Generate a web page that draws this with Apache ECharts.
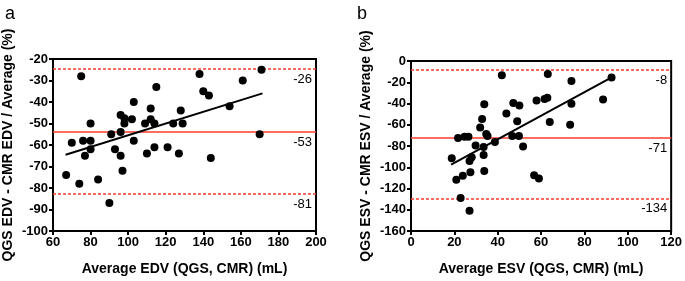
<!DOCTYPE html>
<html><head><meta charset="utf-8">
<script src="https://cdn.jsdelivr.net/npm/echarts@6/dist/echarts.min.js"></script>
<style>html,body{margin:0;padding:0;background:#fff}#c{width:685px;height:281px}</style>
</head><body><div id="c"></div>
<script>
// Panel a: EDV
var edvX = [67,70,74,75,76,77,80,80,80,84,90,91,93,96,96,97,96,98,98,102,103,103,109,112,112,114,115,110,114,121,124,127,128,129,138,140,143,144,154,161,171,170];
var edvY = [-74,-59,-78,-28,-58,-65,-58,-62,-50,-76,-87,-55,-62,-54,-65,-72,-46,-47.5,-50,-48,-40,-58,-50,-43,-48,-50,-33,-64,-61,-61,-50,-64,-44,-50,-27,-35,-37,-66,-42,-30,-25,-55];
var edvFitX = [66.7, 171.5];
var edvFitY = [-64.5, -36];
var edvLimitValues = [-24.6, -53.7, -82.7];
var edvLimitLabels = ['-26', '-53', '-81'];

// Panel b: ESV
var esvX = [18.8,20.9,23.9,27.4,33.8,22.9,27,21.7,24.7,26.5,29.8,27,28,33.5,33.5,34.7,35.3,38.7,31.9,32.8,33.8,41.9,44,47.2,50,49,46.7,49.8,51.7,57.9,61.6,62.9,63.1,64,74,74,73.4,88.6,92.5,56.8,59];
var esvY = [-91.5,-111.7,-108,-104.7,-103.5,-129,-141,-72.5,-71.3,-71.3,-79.5,-94,-90.5,-88.5,-81,-68.6,-70.7,-76.3,-62.5,-54.5,-40.8,-13.4,-49.4,-39.6,-41.8,-56.7,-70.7,-70.7,-80.5,-37.2,-35.8,-34.5,-12.2,-57.3,-18.9,-40.2,-60,-36.3,-15.5,-107.5,-110.5];
var esvFitX = [18.5, 91.5];
var esvFitY = [-97.5, -16.5];
var esvLimitValues = [-8.5, -72.5, -129.2];
var esvLimitLabels = ['-8', '-71', '-134'];

var xTitles = ['Average EDV (QGS, CMR) (mL)', 'Average ESV (QGS, CMR) (mL)'];
var yTitles = ['QGS EDV - CMR EDV / Average (%)', 'QGS ESV - CMR ESV / Average (%)'];
var panelLetters = ['a', 'b'];

function zip(a, b) { return a.map(function (v, i) { return [v, b[i]]; }); }

var FONT = 'Liberation Sans';
var RED = '#ff3b2b';

function xAxis(idx, min, max, interval) {
  return {
    gridIndex: idx, type: 'value', min: min, max: max, interval: interval,
    name: xTitles[idx], nameLocation: 'middle', nameGap: 31,
    nameTextStyle: { fontFamily: FONT, fontWeight: 'bold', fontSize: 14, color: '#000' },
    axisLine: { onZero: false, lineStyle: { color: '#000', width: 2 } },
    axisTick: { show: true, inside: false, length: 4, lineStyle: { color: '#000', width: 2 } },
    axisLabel: { fontFamily: FONT, fontWeight: 'bold', fontSize: 13, color: '#000', margin: 5 },
    splitLine: { show: false }
  };
}
function yAxis(idx, min, max, interval) {
  return {
    gridIndex: idx, type: 'value', min: min, max: max, interval: interval,
    name: yTitles[idx], nameLocation: 'middle', nameRotate: 90, nameGap: 38,
    nameTextStyle: { fontFamily: FONT, fontWeight: 'bold', fontSize: 14, color: '#000' },
    axisLine: { onZero: false, lineStyle: { color: '#000', width: 2 } },
    axisTick: { show: true, inside: false, length: 4, lineStyle: { color: '#000', width: 2 } },
    axisLabel: { fontFamily: FONT, fontWeight: 'bold', fontSize: 13, color: '#000', margin: 5 },
    splitLine: { show: false }
  };
}
function limitLines(values, labels) {
  return {
    silent: true, symbol: 'none', animation: false,
    data: values.map(function (v, i) {
      return {
        yAxis: v,
        lineStyle: { color: RED, width: 1.5, type: i === 1 ? 'solid' : [3, 2] },
        label: {
          show: true, position: 'insideEndBottom', formatter: labels[i], distance: 4,
          fontFamily: FONT, fontSize: 13, color: '#000'
        }
      };
    })
  };
}
function scatter(idx, xs, ys, values, labels) {
  return {
    type: 'scatter', xAxisIndex: idx, yAxisIndex: idx, data: zip(xs, ys),
    symbolSize: 8, itemStyle: { color: '#000', opacity: 1 }, z: 5,
    markLine: limitLines(values, labels)
  };
}
function fit(idx, xs, ys) {
  return {
    type: 'line', xAxisIndex: idx, yAxisIndex: idx, data: zip(xs, ys),
    symbol: 'none', lineStyle: { color: '#000', width: 2 }, z: 6, silent: true
  };
}

var chart = echarts.init(document.getElementById('c'), null, { renderer: 'canvas' });
chart.setOption({
  animation: false,
  backgroundColor: '#fff',
  title: [
    { text: panelLetters[0], left: 0, top: 0, textStyle: { fontFamily: FONT, fontWeight: 'normal', fontSize: 18, color: '#000' } },
    { text: panelLetters[1], left: 352, top: 0, textStyle: { fontFamily: FONT, fontWeight: 'normal', fontSize: 18, color: '#000' } }
  ],
  grid: [
    { left: 52, top: 59, width: 264, height: 175, show: true, borderColor: '#000', borderWidth: 2, backgroundColor: 'transparent' },
    { left: 411, top: 61, width: 263, height: 175, show: true, borderColor: '#000', borderWidth: 2, backgroundColor: 'transparent' }
  ],
  xAxis: [xAxis(0, 60, 200, 20), xAxis(1, 0, 120, 20)],
  yAxis: [yAxis(0, -100, -20, 10), yAxis(1, -160, 0, 20)],
  series: [
    scatter(0, edvX, edvY, edvLimitValues, edvLimitLabels),
    fit(0, edvFitX, edvFitY),
    scatter(1, esvX, esvY, esvLimitValues, esvLimitLabels),
    fit(1, esvFitX, esvFitY)
  ]
});
</script></body></html>
